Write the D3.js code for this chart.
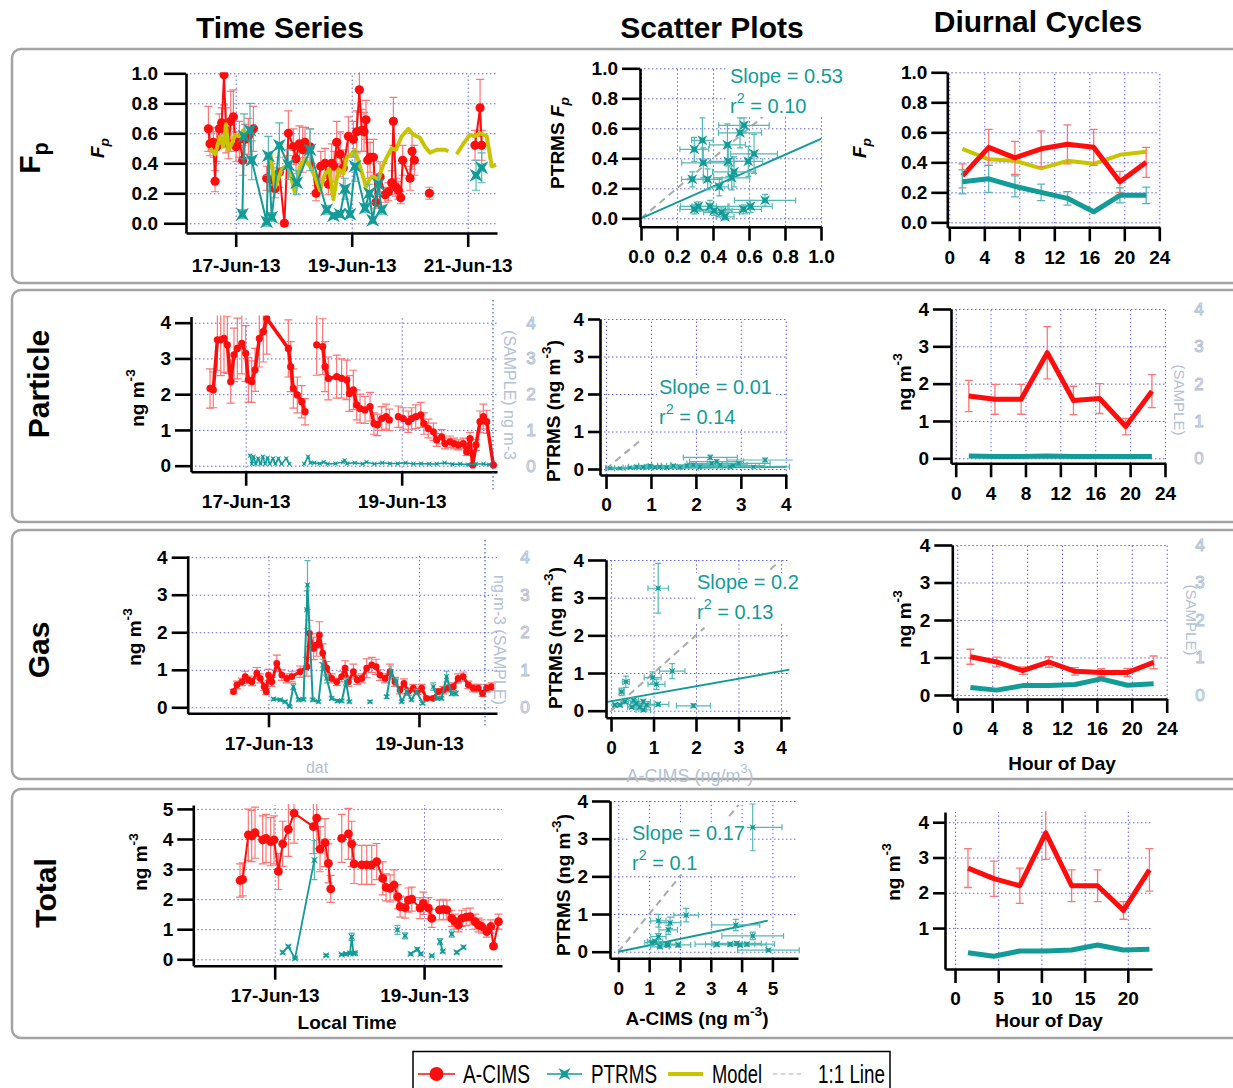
<!DOCTYPE html>
<html>
<head>
<meta charset="utf-8">
<script src="https://cdn.jsdelivr.net/npm/d3@7"></script>
<style>
  body { margin: 0; background: #fff; }
  svg { display: block; font-family: "Liberation Sans", Arial, sans-serif; }
</style>
</head>
<body>
<div id="chart"></div>
<script>
// ---- data ----
// time series points: [days after 17-Jun-13 00:00, value, error]; null = break in line
var dateTicks = ['17-Jun-13', '19-Jun-13', '21-Jun-13'];
var fpTicks = [0, 0.2, 0.4, 0.6, 0.8, 1.0];
var concTicks = [0, 1, 2, 3, 4];
var totTicks = [0, 1, 2, 3, 4, 5];
var hourTicks = [0, 4, 8, 12, 16, 20, 24];
var hourTicks5 = [0, 5, 10, 15, 20];

var fpAcims = [[-0.471,0.63,0.15],[-0.443,0.53,0.08],[-0.385,0.54,0.1],[-0.356,0.28,0.07],[-0.328,0.51,0.1],[-0.282,0.63,0.1],[-0.241,0.67,0.1],[-0.201,0.99,0.2],[-0.167,0.62,0.15],[-0.126,0.53,0.1],[-0.086,0.68,0.2],[-0.04,0.71,0.18],[0.006,0.51,0.1],[0.063,0.56,0.12],[0.121,0.42,0.1],[0.161,0.56,0.1],[0.218,0.58,0.12],[0.305,0.63,0.15],null,
  [0.534,0.30,0.08],[0.621,0.29,0.08],[0.678,0.23,0.06],[0.753,0.34,0.1],[0.839,0.00,0.02],[0.908,0.60,0.15],[0.994,0.51,0.12],[1.04,0.43,0.1],[1.098,0.53,0.12],[1.155,0.49,0.15],[1.195,0.54,0.1],[1.282,0.51,0.12],[1.385,0.20,0.05],[1.466,0.38,0.1],[1.54,0.40,0.1],[1.598,0.26,0.07],[1.655,0.40,0.13],[1.695,0.38,0.1],[1.741,0.54,0.14],[1.8,0.46,0.15],[1.856,0.37,0.12],[1.943,0.58,0.13],[2.029,0.56,0.12],[2.086,0.61,0.14],[2.132,0.89,0.15],[2.172,0.62,0.14],[2.213,0.61,0.13],[2.247,0.69,0.13],[2.276,0.42,0.12],[2.316,0.44,0.1],[2.374,0.44,0.12],[2.42,0.14,0.04],[2.489,0.31,0.1],[2.575,0.19,0.05],[2.632,0.21,0.06],[2.69,0.27,0.08],[2.718,0.68,0.16],[2.764,0.24,0.06],[2.805,0.22,0.06],[2.845,0.17,0.04],[2.879,0.42,0.1],[3.006,0.30,0.08],[3.04,0.48,0.12],[3.08,0.42,0.1],null,
  [3.339,0.20,0.04],null,[4.126,0.52,0.1],[4.213,0.77,0.19],[4.241,0.52,0.1]];
var fpPtrms = [[0.115,0.06,0.03],[0.144,0.58,0.15],[0.247,0.62,0.18],[0.276,0.42,0.13],[0.534,0.01,0.03],[0.563,0.45,0.13],[0.621,0.04,0.03],[0.753,0.52,0.15],[0.908,0.39,0.1],[1.052,0.27,0.08],[1.282,0.49,0.14],[1.569,0.09,0.03],[1.684,0.05,0.02],[1.799,0.06,0.02],[1.885,0.23,0.07],[1.971,0.06,0.02],[2.057,0.38,0.1],[2.23,0.10,0.03],[2.305,0.20,0.06],[2.362,0.02,0.02],[2.46,0.26,0.07],[2.517,0.09,0.03],null,[4.144,0.32,0.1],[4.241,0.37,0.1]];
var fpModel = [[-0.443,0.50],[-0.356,0.46],[-0.27,0.58],[-0.213,0.51],[-0.167,0.66],[-0.126,0.49],[-0.069,0.53],[-0.011,0.59],[0.063,0.58],[0.132,0.62],[0.19,0.60],null,
  [0.592,0.48],[0.678,0.24],[0.793,0.36],[0.908,0.39],[1.023,0.20],[1.109,0.38],[1.195,0.43],[1.282,0.38],[1.368,0.31],[1.454,0.22],[1.54,0.33],[1.615,0.36],[1.684,0.16],[1.77,0.36],[1.856,0.33],[1.914,0.44],[2.0,0.46],[2.057,0.49],[2.144,0.38],[2.247,0.24],[2.316,0.30],[2.374,0.31],[2.46,0.29],[2.534,0.38],[2.603,0.44],[2.69,0.50],[2.764,0.49],[2.862,0.58],[2.977,0.63],[3.063,0.59],[3.178,0.57],[3.264,0.51],[3.351,0.47],[3.466,0.49],[3.609,0.49],[3.667,0.48],null,
  [3.81,0.46],[3.925,0.53],[4.04,0.59],[4.126,0.58],[4.213,0.60],[4.328,0.58],[4.414,0.38],[4.489,0.39]];

var partAcims = [[-0.457,2.16,0.55],[-0.415,2.12,0.5],[-0.363,3.52,0.85],[-0.32,3.52,1.0],[-0.278,3.56,0.95],[-0.235,3.38,0.8],[-0.192,2.35,0.6],[-0.15,3.1,0.75],[-0.107,3.28,0.85],[-0.05,3.42,0.85],[0,3.14,0.78],[0.034,2.4,0.62],[0.077,2.35,0.58],[0.12,2.68,0.6],[0.175,3.56,0.8],[0.226,3.75,0.85],[0.27,4.12,1.0],[0.547,3.28,0.8],[0.577,2.77,0.7],[0.611,2.16,0.55],[0.662,1.98,0.5],[0.718,1.79,0.45],[0.761,1.51,0.37],null,
  [0.91,3.38,0.85],[0.987,3.33,0.78],[1.017,2.77,0.7],[1.06,2.44,0.6],[1.167,2.49,0.6],[1.23,2.44,0.55],[1.295,2.4,0.55],[1.33,2.02,0.5],[1.38,2.12,0.55],[1.423,1.7,0.42],[1.466,1.6,0.4],[1.53,1.56,0.38],[1.594,1.65,0.4],[1.645,1.18,0.3],[1.688,1.14,0.3],[1.744,1.32,0.33],[1.8,1.37,0.35],[1.842,1.28,0.3],null,
  [1.957,1.37,0.3],[2.02,1.32,0.3],[2.085,1.23,0.3],[2.128,1.32,0.3],[2.18,1.37,0.33],[2.244,1.42,0.35],[2.286,1.18,0.3],[2.342,1.04,0.26],[2.406,0.95,0.24],[2.449,0.72,0.18],[2.513,0.81,0.2],[2.556,0.62,0.15],[2.62,0.67,0.16],[2.671,0.62,0.15],[2.726,0.58,0.14],[2.79,0.62,0.15],[2.833,0.39,0.1],[2.876,0.76,0.17],[2.91,0.02,0.02],[2.953,0.58,0.15],[3.004,1.23,0.3],[3.047,1.37,0.35],[3.09,1.23,0.32],[3.175,0.02,0.02]];
var partPtrms = [[0.056,0.28],[0.08,0.05],[0.1,0.25],[0.13,0.05],[0.16,0.2],[0.19,0.05],[0.22,0.25],[0.25,0.05],[0.28,0.22],[0.31,0.05],[0.35,0.2],[0.38,0.05],[0.42,0.2],[0.46,0.05],[0.52,0.2],[0.56,0.05],null,
  [0.75,0.05],[0.8,0.25],[0.83,0.08],[0.88,0.08],[0.95,0.06],[1.0,0.1],[1.05,0.05],[1.15,0.06],[1.25,0.1],[1.27,0.15],[1.3,0.06],[1.4,0.08],[1.5,0.05],[1.55,0.1],[1.65,0.05],[1.75,0.08],[1.85,0.06],[1.95,0.06],[2.05,0.08],[2.15,0.05],[2.25,0.06],[2.35,0.05],[2.45,0.05],[2.55,0.08],[2.65,0.04],[2.75,0.05],[2.85,0.03],[2.95,0.05],[3.05,0.05],[3.12,0.03]];

var gasAcims = [[-0.465,0.42,0.06],[-0.42,0.6,0.1],[-0.354,0.68,0.1],[-0.31,0.82,0.14],[-0.265,0.73,0.1],[-0.22,0.68,0.1],[-0.155,0.91,0.15],[-0.11,0.77,0.12],[-0.058,0.55,0.1],[-0.03,0.42,0.08],[0,0.86,0.15],[0.044,0.68,0.12],[0.11,1.17,0.22],[0.177,0.86,0.14],[0.243,0.77,0.12],[0.31,0.82,0.14],[0.42,0.95,0.15],[0.51,1.08,0.25],[0.544,1.97,0.35],[0.6,1.57,0.3],[0.64,1.66,0.3],[0.677,1.93,0.35],[0.72,1.44,0.25],[0.774,1.04,0.18],[0.84,0.77,0.12],[0.907,0.68,0.1],[0.973,0.82,0.14],[1.018,1.04,0.2],[1.062,0.68,0.12],[1.128,0.95,0.2],[1.18,0.73,0.12],[1.24,0.77,0.12],[1.305,1.04,0.25],[1.372,1.13,0.2],[1.43,1.08,0.2],[1.482,0.86,0.14],[1.55,0.77,0.12],[1.615,0.95,0.2],[1.68,0.68,0.12],[1.748,0.46,0.1],[1.8,0.64,0.12],[1.858,0.42,0.1],[1.925,0.51,0.1],[1.978,0.42,0.08],[2.035,0.51,0.1],[2.1,0.24,0.05],[2.19,0.24,0.05],[2.257,0.42,0.08],[2.323,0.46,0.1],[2.39,0.51,0.1],[2.456,0.55,0.1],[2.52,0.77,0.12],[2.588,0.82,0.12],[2.655,0.6,0.1],[2.721,0.51,0.1],[2.788,0.51,0.1],[2.845,0.37,0.08],[2.898,0.51,0.1],[2.965,0.55,0.1]];
var gasPtrms = [[0.066,0.22,0.03],[0.155,0.2,0.03],[0.22,0.15,0.03],[0.28,0.02,0.02],[0.33,0.55,0.08],[0.4,0.2,0.03],[0.465,0.21,0.03],[0.508,2.6,0.5],[0.518,3.26,0.65],[0.588,0.2,0.03],[0.664,0.15,0.03],[0.72,1.13,0.15],[0.774,0.77,0.12],[0.84,0.24,0.04],[0.916,0.17,0.03],[0.973,0.17,0.03],[1.03,0.68,0.1],[1.075,0.15,0.03],null,[1.35,0.15,0.03],null,
  [1.57,0.28,0.04],[1.628,0.95,0.15],[1.695,0.68,0.1],[1.77,0.15,0.03],[1.836,0.42,0.06],[1.9,0.2,0.03],[1.968,0.42,0.06],[2.05,0.11,0.03],null,[2.19,0.55,0.1],[2.243,0.24,0.04],[2.3,0.24,0.04],[2.367,0.82,0.14],[2.434,0.37,0.06],[2.49,0.37,0.06]];

var totAcims = [[-0.464,2.62,0.55],[-0.429,2.66,0.55],[-0.353,4.14,0.85],[-0.308,4.1,0.85],[-0.263,4.21,0.85],[-0.161,3.97,0.8],[-0.116,4.02,0.8],[-0.054,3.91,0.8],[-0.009,3.97,0.8],[0.049,2.92,0.6],[0.107,3.84,0.75],[0.183,4.32,0.9],[0.259,4.86,1.0],[0.518,4.41,0.9],[0.563,4.69,1.0],[0.607,3.66,0.75],[0.674,3.88,0.8],[0.719,3.19,0.65],[0.75,2.34,0.45],null,
  [0.897,4.02,0.8],[0.987,4.17,0.85],[1.031,3.84,0.75],[1.063,3.17,0.65],[1.165,3.14,0.65],[1.232,3.14,0.65],[1.299,3.14,0.65],[1.366,3.25,0.6],[1.446,2.69,0.55],[1.491,2.39,0.45],[1.545,2.36,0.45],[1.598,2.47,0.5],[1.647,2.08,0.4],[1.679,1.75,0.35],[1.746,1.72,0.35],[1.79,1.97,0.4],[1.835,2.0,0.4],[1.946,1.70,0.35],[1.99,1.86,0.37],[2.058,1.70,0.35],[2.103,1.36,0.3],null,
  [2.205,1.64,0.33],[2.259,1.66,0.33],[2.304,1.64,0.33],[2.37,1.36,0.27],[2.415,1.25,0.25],[2.46,1.14,0.23],[2.504,1.36,0.27],[2.563,1.40,0.28],[2.616,1.42,0.28],[2.683,1.25,0.25],[2.728,1.14,0.23],[2.772,1.09,0.22],[2.839,0.92,0.18],[2.893,1.09,0.22],[2.929,0.44,0.08],[2.996,1.25,0.25]];
var totPtrms = [[0.107,0.23,0.04],[0.183,0.42,0.05],[0.272,0.03,0.02],[0.531,3.30,0.65],null,[0.688,0.13,0.03],null,[0.897,0.16,0.03],[0.955,0.18,0.03],[1.009,0.2,0.03],[1.031,0.75,0.12],[1.054,0.2,0.03],[1.076,0.2,0.03],null,
  [1.643,0.98,0.15],null,[1.746,0.78,0.1],null,[1.821,0.18,0.03],[1.91,0.33,0.05],[1.955,0.18,0.03],null,[2.103,0.12,0.03],null,[2.214,0.59,0.1],[2.25,0.26,0.04],null,[2.37,0.84,0.1],null,[2.437,0.23,0.04],[2.527,0.4,0.05]];

// scatter points: [A-CIMS, PTRMS, x error, y error]
var fpScatter = [[0.341,0.52,0.06,0.15],[0.296,0.46,0.08,0.08],[0.346,0.37,0.12,0.1],[0.285,0.26,0.06,0.05],[0.37,0.26,0.08,0.07],[0.435,0.21,0.05,0.06],[0.48,0.49,0.1,0.14],[0.485,0.38,0.1,0.1],[0.504,0.27,0.1,0.08],[0.517,0.31,0.12,0.1],[0.55,0.57,0.12,0.1],[0.572,0.62,0.14,0.05],[0.596,0.38,0.08,0.1],[0.628,0.43,0.13,0.13],[0.296,0.06,0.08,0.03],[0.319,0.08,0.1,0.03],[0.383,0.08,0.1,0.04],[0.406,0.05,0.1,0.03],[0.448,0.04,0.1,0.03],[0.467,0.01,0.05,0.02],[0.569,0.06,0.1,0.03],[0.609,0.08,0.12,0.04],[0.689,0.12,0.17,0.04]];
var partScatter = [[0.09,0.02,0.1,0.02],[0.31,0.02,0.12,0.02],[0.53,0.04,0.15,0.02],[0.68,0.06,0.18,0.03],[0.83,0.05,0.2,0.02],[0.98,0.09,0.25,0.03],[1.09,0.04,0.25,0.02],[1.2,0.06,0.3,0.02],[1.35,0.04,0.3,0.02],[1.5,0.09,0.35,0.03],[1.65,0.04,0.4,0.02],[1.8,0.09,0.45,0.03],[1.94,0.11,0.5,0.03],[2.09,0.06,0.5,0.03],[2.32,0.31,0.6,0.06],[2.35,0.15,0.55,0.04],[2.46,0.2,0.6,0.05],[2.54,0.11,0.6,0.03],[2.76,0.06,0.65,0.03],[2.83,0.09,0.7,0.03],[2.95,0.15,0.7,0.04],[3.28,0.06,0.8,0.03],[3.54,0.24,0.85,0.05]];
var gasScatter = [[1.11,3.25,0.24,0.66],[1.44,1.05,0.3,0.2],[0.98,0.88,0.2,0.15],[1.07,0.7,0.2,0.14],[0.35,0.77,0.08,0.15],[0.25,0.5,0.06,0.1],[1.94,0.13,0.4,0.05],[1.11,0.17,0.25,0.05],[0.21,0.15,0.05,0.04],[0.33,0.24,0.08,0.05],[0.53,0.28,0.12,0.06],[0.6,0.19,0.14,0.05],[0.68,0.1,0.15,0.04],[0.76,0.24,0.17,0.06],[0.84,0.15,0.18,0.04],[0.49,0.1,0.1,0.04],[0.09,0.15,0.03,0.03],[0.76,0.02,0.17,0.03]];
var totScatter = [[4.36,3.3,0.95,0.62],[3.81,0.71,0.78,0.15],[4.36,0.42,1.0,0.1],[4.87,0.04,1.0,0.03],[3.19,0.2,0.7,0.05],[3.63,0.2,0.8,0.05],[3.84,0.22,0.8,0.05],[3.95,0.18,0.85,0.05],[4.17,0.2,0.9,0.05],[1.3,0.82,0.25,0.17],[1.68,0.77,0.35,0.15],[1.62,0.58,0.3,0.12],[2.2,0.97,0.4,0.18],[1.3,0.4,0.25,0.08],[1.19,0.27,0.25,0.06],[1.35,0.13,0.3,0.04],[1.57,0.2,0.3,0.05],[1.95,0.18,0.4,0.05],[1.62,0.18,0.35,0.05],[1.08,0.24,0.22,0.06]];

// fits: [slope, intercept, x start, x end, label slope, label r2]
var fpFit = [0.53, 0, 0, 1.0, '0.53', '0.10'];
var partFit = [0.01, 0.02, 0, 4.02, '0.01', '0.14'];
var gasFit = [0.2, 0.25, -0.08, 4.2, '0.2', '0.13'];
var totFit = [0.17, 0, 0, 4.85, '0.17', '0.1'];
// visible pieces of the 1:1 line
var fpOneToOne = [[0, 0.68]];
var partOneToOne = [[0, 0.82]];
var gasOneToOne = [[0, 2.2], [3.75, 3.92]];
var totOneToOne = [[0, 2.05], [3.6, 3.9]];

// diurnal cycles (3-hour bins)
var hours = [1.5, 4.5, 7.5, 10.5, 13.5, 16.5, 19.5, 22.5];
var fpDiurnalAcims = [0.31, 0.50, 0.43, 0.49, 0.52, 0.50, 0.27, 0.40];
var fpDiurnalAcimsErr = [0.08, 0.12, 0.11, 0.12, 0.13, 0.12, 0.07, 0.10];
var fpDiurnalPtrms = [0.27, 0.29, 0.24, 0.20, 0.16, 0.07, 0.18, 0.18];
var fpDiurnalPtrmsErr = [0.08, 0.09, 0.07, 0.055, 0.045, 0, 0.05, 0.055];
var fpDiurnalModel = [0.49, 0.42, 0.41, 0.36, 0.41, 0.39, 0.45, 0.47];
var partDiurnalAcims = [1.67, 1.58, 1.58, 2.83, 1.55, 1.60, 0.85, 1.80];
var partDiurnalAcimsErr = [0.42, 0.4, 0.4, 0.7, 0.38, 0.4, 0.22, 0.44];
var partDiurnalPtrms = [0.06, 0.05, 0.05, 0.06, 0.05, 0.05, 0.05, 0.05];
var gasDiurnalAcims = [1.02, 0.88, 0.65, 0.88, 0.63, 0.60, 0.60, 0.87];
var gasDiurnalAcimsErr = [0.2, 0.13, 0.1, 0.14, 0.1, 0.1, 0.11, 0.17];
var gasDiurnalPtrms = [0.2, 0.13, 0.25, 0.25, 0.28, 0.43, 0.26, 0.3];
var totDiurnalAcims = [2.7, 2.4, 2.2, 3.7, 2.2, 2.2, 1.5, 2.65];
var totDiurnalAcimsErr = [0.55, 0.5, 0.5, 0.75, 0.45, 0.45, 0.25, 0.6];
var totDiurnalPtrms = [0.3, 0.2, 0.35, 0.35, 0.38, 0.52, 0.38, 0.4];

var legendItems = ['A-CIMS', 'PTRMS', 'Model', '1:1 Line'];

// ---- styling ----
var RED = '#ff0d0d', RED_ERR = '#ff7474';
var TEAL = '#129b97', TEAL_ERR = '#52b9b5';
var YELLOW = '#c8c400';
var GRID = '#5f5ff5';
var GHOST = '#b3c1d3';

var W = 1233, H = 1088;
var BASE = new Date(2013, 5, 17);
var parseDate = d3.timeParse('%d-%b-%y');
var clipCount = 0;

var svg = d3.select('#chart').append('svg').attr('width', W).attr('height', H);

function day (t) { return new Date(BASE.getTime() + t * 864e5); }

function starPath (s) {
  var k = 0.45 * s;
  return 'M' + (-s) + ',' + (-s) + 'L0,' + (-k) + 'L' + s + ',' + (-s) + 'L' + k + ',0L' + s + ',' + s +
    'L0,' + k + 'L' + (-s) + ',' + s + 'L' + (-k) + ',0Z';
}

function label (x, y, parts, o) {
  o = o || {};
  var size = o.size || 19;
  var t = (o.parent || svg).append('text')
    .attr('transform', 'translate(' + x + ',' + y + ')' + (o.rot ? ' rotate(' + o.rot + ')' : ''))
    .attr('text-anchor', o.anchor || 'middle')
    .attr('font-size', size)
    .attr('font-weight', o.weight || 'bold')
    .attr('fill', o.color || '#000');
  if (o.family) t.attr('font-family', o.family);
  var cur = 0;
  parts.forEach(function (p) {
    if (typeof p === 'string') p = { t: p };
    var target = p.sup ? -size * 0.5 : (p.sub ? size * 0.28 : 0);
    var s = t.append('tspan').text(p.t).attr('dy', target - cur);
    cur = target;
    if (p.sup || p.sub) s.attr('font-size', size * 0.72);
    if (p.it) s.attr('font-style', 'italic');
  });
  return t;
}

function styleGrid (g) {
  g.select('.domain').remove();
  g.selectAll('line')
    .attr('stroke', GRID)
    .attr('stroke-width', 1)
    .attr('stroke-dasharray', '1.5,2.5');
}

function styleAxis (g) {
  g.attr('font-size', 19).attr('font-family', null).attr('font-weight', 'bold');
  g.select('.domain').attr('stroke', '#000').attr('stroke-width', 2.6);
  g.selectAll('.tick line').attr('stroke', '#000').attr('stroke-width', 2.6);
  g.selectAll('.tick text').attr('fill', '#000');
}

function makePanel (c) {
  var x = c.time ? d3.scaleTime().domain(c.xDomain.map(day)) : d3.scaleLinear().domain(c.xDomain);
  x.range([c.left, c.right]);
  var y = d3.scaleLinear().domain(c.yDomain).range([c.bottom, c.top]);
  var px = c.time ? function (t) { return x(day(t)); } : x;
  var xVals = c.time ? c.xTicks.map(parseDate) : c.xTicks;

  svg.append('g')
    .attr('transform', 'translate(0,' + c.bottom + ')')
    .call(d3.axisBottom(x).tickValues(xVals).tickSize(-(c.bottom - c.top)).tickFormat(''))
    .call(styleGrid);
  svg.append('g')
    .attr('transform', 'translate(' + c.left + ',0)')
    .call(d3.axisLeft(y).tickValues(c.yTicks).tickSize(-(c.right - c.left)).tickFormat(''))
    .call(styleGrid);

  var id = 'clip' + (clipCount++);
  svg.append('clipPath').attr('id', id).append('rect')
    .attr('x', c.left).attr('y', c.top - 1).attr('width', c.right - c.left + 6).attr('height', c.bottom - c.top + 1);
  var g = svg.append('g').attr('clip-path', 'url(#' + id + ')');

  var xFmt = c.time ? d3.timeFormat('%d-%b-%y') : (c.xFmt || d3.format('d'));
  svg.append('g')
    .attr('transform', 'translate(0,' + c.bottom + ')')
    .call(d3.axisBottom(x).tickValues(xVals).tickSize(14).tickSizeOuter(0).tickPadding(c.xPad || 9).tickFormat(xFmt))
    .call(styleAxis);
  svg.append('g')
    .attr('transform', 'translate(' + c.left + ',0)')
    .call(d3.axisLeft(y).tickValues(c.yTicks).tickSize(c.yTickLen || 16).tickSizeOuter(0).tickPadding(c.yPad || 4).tickFormat(c.yFmt || d3.format('d')))
    .call(styleAxis);

  return { x: x, y: y, px: px, g: g };
}

function errBars (P, pts, color, cap, width) {
  P.g.append('g').selectAll('path')
    .data(pts.filter(function (d) { return d[2] > 0; }))
    .enter().append('path')
    .attr('d', function (d) {
      var x = P.px(d[0]), y0 = P.y(d[1] - d[2]), y1 = P.y(d[1] + d[2]);
      return 'M' + x + ',' + y0 + 'V' + y1 + 'M' + (x - cap) + ',' + y1 + 'H' + (x + cap) +
        'M' + (x - cap) + ',' + y0 + 'H' + (x + cap);
    })
    .attr('fill', 'none')
    .attr('stroke', color)
    .attr('stroke-width', width || 1.2);
}

function series (P, data, o) {
  var pts = data.filter(function (d) { return d; });
  if (o.errColor) errBars(P, pts, o.errColor, o.cap || 3);
  var line = d3.line()
    .defined(function (d) { return d; })
    .x(function (d) { return P.px(d[0]); })
    .y(function (d) { return P.y(d[1]); });
  P.g.append('path').datum(data)
    .attr('d', line)
    .attr('fill', 'none')
    .attr('stroke', o.color)
    .attr('stroke-width', o.lineWidth)
    .attr('stroke-linejoin', 'round');
  if (o.marker === 'circle') {
    P.g.append('g').selectAll('circle').data(pts).enter().append('circle')
      .attr('cx', function (d) { return P.px(d[0]); })
      .attr('cy', function (d) { return P.y(d[1]); })
      .attr('r', o.size)
      .attr('fill', o.color);
  } else if (o.marker === 'star') {
    P.g.append('g').selectAll('path').data(pts).enter().append('path')
      .attr('transform', function (d) { return 'translate(' + P.px(d[0]) + ',' + P.y(d[1]) + ')'; })
      .attr('d', starPath(o.size))
      .attr('fill', o.color);
  }
}

function scatter (P, pts, fit, oneToOne, size, text) {
  P.g.append('g').selectAll('path.one').data(oneToOne).enter().append('path')
    .attr('d', function (d) { return 'M' + P.x(d[0]) + ',' + P.y(d[0]) + 'L' + P.x(d[1]) + ',' + P.y(d[1]); })
    .attr('stroke', '#aaaaaa').attr('stroke-width', 2).attr('stroke-dasharray', '7,5');
  P.g.append('line')
    .attr('x1', P.x(fit[2])).attr('y1', P.y(fit[1] + fit[0] * fit[2]))
    .attr('x2', P.x(fit[3])).attr('y2', P.y(fit[1] + fit[0] * fit[3]))
    .attr('stroke', TEAL).attr('stroke-width', 2);
  P.g.append('g').selectAll('path').data(pts).enter().append('path')
    .attr('d', function (d) {
      var x = P.x(d[0]), y = P.y(d[1]), c = 3;
      var x0 = P.x(d[0] - d[2]), x1 = P.x(d[0] + d[2]), y0 = P.y(d[1] - d[3]), y1 = P.y(d[1] + d[3]);
      return 'M' + x0 + ',' + y + 'H' + x1 + 'M' + x0 + ',' + (y - c) + 'V' + (y + c) + 'M' + x1 + ',' + (y - c) + 'V' + (y + c) +
        'M' + x + ',' + y0 + 'V' + y1 + 'M' + (x - c) + ',' + y0 + 'H' + (x + c) + 'M' + (x - c) + ',' + y1 + 'H' + (x + c);
    })
    .attr('fill', 'none').attr('stroke', TEAL_ERR).attr('stroke-width', 1.2);
  P.g.append('g').selectAll('path.m').data(pts).enter().append('path')
    .attr('transform', function (d) { return 'translate(' + P.x(d[0]) + ',' + P.y(d[1]) + ')'; })
    .attr('d', starPath(size))
    .attr('fill', TEAL);

  // annotation box (opaque, like the original text box)
  var box = svg.append('g');
  var bg = box.append('rect').attr('fill', '#fff');
  label(text[0], text[1], ['Slope = ' + fit[4]], { anchor: 'start', weight: 'normal', color: TEAL, size: 20, parent: box });
  label(text[0], text[1] + 30, ['r', { t: '2', sup: true }, ' = ' + fit[5]], { anchor: 'start', weight: 'normal', color: TEAL, size: 20, parent: box });
  var bb = box.node().getBBox();
  bg.attr('x', bb.x - 2).attr('y', bb.y + 2).attr('width', bb.width + 4).attr('height', bb.height - 2);
}

function diurnal (P, vals, errs, color, errColor, width) {
  var pts = hours.map(function (h, i) { return [h, vals[i], errs ? errs[i] : 0]; });
  if (errs) errBars(P, pts, errColor, 4, 1.3);
  P.g.append('path').datum(pts)
    .attr('d', d3.line().x(function (d) { return P.x(d[0]); }).y(function (d) { return P.y(d[1]); }))
    .attr('fill', 'none').attr('stroke', color).attr('stroke-width', width).attr('stroke-linejoin', 'round');
}

function ghostAxis (x, P, ticks) {
  svg.append('g').selectAll('text').data(ticks).enter().append('text')
    .attr('x', x).attr('y', function (d) { return P.y(d); }).attr('dy', '0.35em')
    .attr('text-anchor', 'middle').attr('font-size', 17).attr('fill', 'none')
    .attr('stroke', GHOST).attr('stroke-width', 1)
    .text(function (d) { return d; });
}

// ---- row frames and headings ----
var rowBoxes = [[49, 234], [290, 232], [530, 249], [789, 249]];
svg.append('g').selectAll('rect').data(rowBoxes).enter().append('rect')
  .attr('x', 12).attr('y', function (d) { return d[0]; })
  .attr('width', 1240).attr('height', function (d) { return d[1]; })
  .attr('rx', 9).attr('fill', 'none').attr('stroke', '#a3a3a3').attr('stroke-width', 2.5);

label(280, 38, ['Time Series'], { size: 30 });
label(712, 38, ['Scatter Plots'], { size: 30 });
label(1038, 32, ['Diurnal Cycles'], { size: 30 });

label(40, 158, ['F', { t: 'p', sub: true }], { rot: -90, size: 30 });
label(49, 384, ['Particle'], { rot: -90, size: 30 });
label(49, 650, ['Gas'], { rot: -90, size: 30 });
label(56, 893, ['Total'], { rot: -90, size: 30 });

// ---- Row 1: Fp ----
var p = makePanel({ time: true, left: 186, right: 497, top: 73.3, bottom: 233, xDomain: [-0.857, 4.505], yDomain: [-0.065, 1.0],
  xTicks: dateTicks, yTicks: fpTicks, yFmt: d3.format('.1f'), yTickLen: 22, yPad: 6, xPad: 12 });
series(p, fpAcims, { color: RED, errColor: RED_ERR, lineWidth: 2, marker: 'circle', size: 4.6, cap: 4 });
series(p, fpModel, { color: YELLOW, lineWidth: 4 });
series(p, fpPtrms, { color: TEAL, errColor: TEAL_ERR, lineWidth: 2, marker: 'star', size: 6.5, cap: 4 });
label(104, 148, [{ t: 'F', it: true }, { t: 'p', sub: true, it: true }], { rot: -90, size: 19 });

p = makePanel({ left: 640, right: 821, top: 68.3, bottom: 226.7, xDomain: [-0.0056, 1.0], yDomain: [-0.056, 1.0],
  xTicks: fpTicks, yTicks: fpTicks, xFmt: d3.format('.1f'), yFmt: d3.format('.1f'), yTickLen: 18 });
scatter(p, fpScatter, fpFit, fpOneToOne, 5, [730, 83]);
label(564, 143, ['PTRMS ', { t: 'F', it: true }, { t: 'p', sub: true, it: true }], { rot: -90, size: 19 });

p = makePanel({ left: 947.3, right: 1159.3, top: 72.3, bottom: 227.3, xDomain: [-0.23, 24], yDomain: [-0.033, 1.0],
  xTicks: hourTicks, yTicks: fpTicks, yFmt: d3.format('.1f') });
diurnal(p, fpDiurnalModel, null, YELLOW, null, 4);
diurnal(p, fpDiurnalAcims, fpDiurnalAcimsErr, RED, RED_ERR, 5);
diurnal(p, fpDiurnalPtrms, fpDiurnalPtrmsErr, TEAL, TEAL_ERR, 5);
label(866, 148, [{ t: 'F', it: true }, { t: 'p', sub: true, it: true }], { rot: -90, size: 19 });

// ---- Row 2: Particle ----
p = makePanel({ time: true, left: 191, right: 497, top: 316.6, bottom: 471.7, xDomain: [-0.701, 3.222], yDomain: [-0.168, 4.17],
  xTicks: dateTicks.slice(0, 2), yTicks: concTicks });
series(p, partAcims, { color: RED, errColor: RED_ERR, lineWidth: 3.5, marker: 'circle', size: 3.6, cap: 4 });
series(p, partPtrms, { color: TEAL, lineWidth: 1.5, marker: 'star', size: 2.6 });
label(144, 398, ['ng m', { t: '-3', sup: true }], { rot: -90, size: 19 });
svg.append('line').attr('x1', 493).attr('x2', 493).attr('y1', 300).attr('y2', 492)
  .attr('stroke', '#3a5fb0').attr('stroke-width', 1.2).attr('stroke-dasharray', '1.5,2.5');
label(504, 395, ['(SAMPLE) ng m-3'], { rot: 90, size: 16, weight: 'normal', color: GHOST });
ghostAxis(531, p, concTicks);

p = makePanel({ left: 600, right: 786.7, top: 319, bottom: 475, xDomain: [-0.134, 4.02], yDomain: [-0.16, 4.0],
  xTicks: concTicks, yTicks: concTicks, yTickLen: 12 });
scatter(p, partScatter, partFit, partOneToOne, 2.8, [659, 394]);
label(560, 411, ['PTRMS (ng m', { t: '-3', sup: true }, ')'], { rot: -90, size: 19 });

p = makePanel({ left: 951, right: 1165, top: 309, bottom: 463.3, xDomain: [-0.54, 24], yDomain: [-0.134, 4.0],
  xTicks: hourTicks, yTicks: concTicks, yTickLen: 18 });
diurnal(p, partDiurnalAcims, partDiurnalAcimsErr, RED, RED_ERR, 5);
diurnal(p, partDiurnalPtrms, null, TEAL, null, 5);
label(911, 382, ['ng m', { t: '-3', sup: true }], { rot: -90, size: 19 });
label(1174, 400, ['(SAMPLE)'], { rot: 90, size: 15, weight: 'normal', color: GHOST });
ghostAxis(1199, p, concTicks);

// ---- Row 3: Gas ----
p = makePanel({ time: true, left: 187.7, right: 497, top: 555.7, bottom: 713.3, xDomain: [-1.074, 3.037], yDomain: [-0.16, 4.04],
  xTicks: dateTicks.slice(0, 2), yTicks: concTicks });
series(p, gasAcims, { color: RED, errColor: RED_ERR, lineWidth: 3, marker: 'circle', size: 3.4, cap: 4 });
series(p, gasPtrms, { color: TEAL, errColor: TEAL_ERR, lineWidth: 2, marker: 'star', size: 3, cap: 3 });
label(141, 637, ['ng m', { t: '-3', sup: true }], { rot: -90, size: 19 });
svg.append('line').attr('x1', 485).attr('x2', 485).attr('y1', 540).attr('y2', 728)
  .attr('stroke', '#3a5fb0').attr('stroke-width', 1.2).attr('stroke-dasharray', '1.5,2.5');
label(494, 640, ['ng m-3 (SAMPLE)'], { rot: 90, size: 16, weight: 'normal', color: GHOST });
ghostAxis(525, p, concTicks);
label(317, 773, ['dat'], { size: 16, weight: 'normal', color: GHOST });

p = makePanel({ left: 606, right: 790, top: 560, bottom: 717.7, xDomain: [-0.118, 4.212], yDomain: [-0.186, 4.0],
  xTicks: concTicks, yTicks: concTicks, yTickLen: 18 });
scatter(p, gasScatter, gasFit, gasOneToOne, 3.3, [697, 589]);
label(562, 638, ['PTRMS (ng m', { t: '-3', sup: true }, ')'], { rot: -90, size: 19 });
label(690, 782, ['A-CIMS (ng/m', { t: '3', sup: true }, ')'], { size: 18, weight: 'normal', color: GHOST });

p = makePanel({ left: 952.3, right: 1166.7, top: 545, bottom: 699, xDomain: [-0.57, 24], yDomain: [-0.107, 4.0],
  xTicks: hourTicks, yTicks: concTicks, yTickLen: 18 });
diurnal(p, gasDiurnalAcims, gasDiurnalAcimsErr, RED, RED_ERR, 5);
diurnal(p, gasDiurnalPtrms, null, TEAL, null, 5);
label(911, 619, ['ng m', { t: '-3', sup: true }], { rot: -90, size: 19 });
label(1062, 770, ['Hour of Day'], { size: 19 });
label(1186, 620, ['(SAMPLE)'], { rot: 90, size: 15, weight: 'normal', color: GHOST });
ghostAxis(1200, p, concTicks);

// ---- Row 4: Total ----
p = makePanel({ time: true, left: 193.3, right: 502, top: 805, bottom: 965.7, xDomain: [-1.0897, 3.043], yDomain: [-0.213, 5.13],
  xTicks: dateTicks.slice(0, 2), yTicks: totTicks });
series(p, totAcims, { color: RED, errColor: RED_ERR, lineWidth: 2, marker: 'circle', size: 4.4, cap: 4 });
series(p, totPtrms, { color: TEAL, errColor: TEAL_ERR, lineWidth: 1.8, marker: 'star', size: 3.4, cap: 3 });
label(147, 862, ['ng m', { t: '-3', sup: true }], { rot: -90, size: 19 });
label(347, 1029, ['Local Time'], { size: 19 });

p = makePanel({ left: 610, right: 798, top: 801, bottom: 958.3, xDomain: [-0.27, 5.83], yDomain: [-0.175, 4.0],
  xTicks: totTicks, yTicks: concTicks, yTickLen: 18 });
scatter(p, totScatter, totFit, totOneToOne, 3.3, [632, 840]);
label(570, 885, ['PTRMS (ng m', { t: '-3', sup: true }, ')'], { rot: -90, size: 19 });
label(697, 1025, ['A-CIMS (ng m', { t: '-3', sup: true }, ')'], { size: 19 });

p = makePanel({ left: 945, right: 1152, top: 812, bottom: 969, xDomain: [-1.16, 22.8], yDomain: [-0.16, 4.29],
  xTicks: hourTicks5, yTicks: [1, 2, 3, 4], yTickLen: 12 });
diurnal(p, totDiurnalAcims, totDiurnalAcimsErr, RED, RED_ERR, 5);
diurnal(p, totDiurnalPtrms, null, TEAL, null, 5);
label(900, 872, ['ng m', { t: '-3', sup: true }], { rot: -90, size: 19 });
label(1049, 1027, ['Hour of Day'], { size: 19 });

// ---- legend ----
var lg = svg.append('g');
lg.append('rect').attr('x', 413).attr('y', 1051.5).attr('width', 477).attr('height', 50)
  .attr('fill', '#fff').attr('stroke', '#000').attr('stroke-width', 1.5);
var ly = 1074;
// [line start, line end, text start, text width]
var legendX = [[418, 455, 463, 67], [547, 582, 591, 66], [668, 703, 712, 50], [773, 804, 818, 67]];
lg.append('line').attr('x1', legendX[0][0]).attr('x2', legendX[0][1]).attr('y1', ly).attr('y2', ly).attr('stroke', RED).attr('stroke-width', 1.5);
lg.append('circle').attr('cx', (legendX[0][0] + legendX[0][1]) / 2).attr('cy', ly).attr('r', 7).attr('fill', RED);
lg.append('line').attr('x1', legendX[1][0]).attr('x2', legendX[1][1]).attr('y1', ly).attr('y2', ly).attr('stroke', TEAL).attr('stroke-width', 1.5);
lg.append('path').attr('transform', 'translate(' + (legendX[1][0] + legendX[1][1]) / 2 + ',' + ly + ')').attr('d', starPath(6)).attr('fill', TEAL);
lg.append('line').attr('x1', legendX[2][0]).attr('x2', legendX[2][1]).attr('y1', ly).attr('y2', ly).attr('stroke', YELLOW).attr('stroke-width', 4);
lg.append('line').attr('x1', legendX[3][0]).attr('x2', legendX[3][1]).attr('y1', ly).attr('y2', ly).attr('stroke', '#aaa').attr('stroke-width', 1).attr('stroke-dasharray', '4,4');
legendItems.forEach(function (name, i) {
  lg.append('text')
    .attr('x', legendX[i][2]).attr('y', ly + 9)
    .attr('font-size', 26)
    .attr('textLength', legendX[i][3])
    .attr('lengthAdjust', 'spacingAndGlyphs')
    .attr('fill', '#000')
    .text(name);
});
</script>
</body>
</html>
